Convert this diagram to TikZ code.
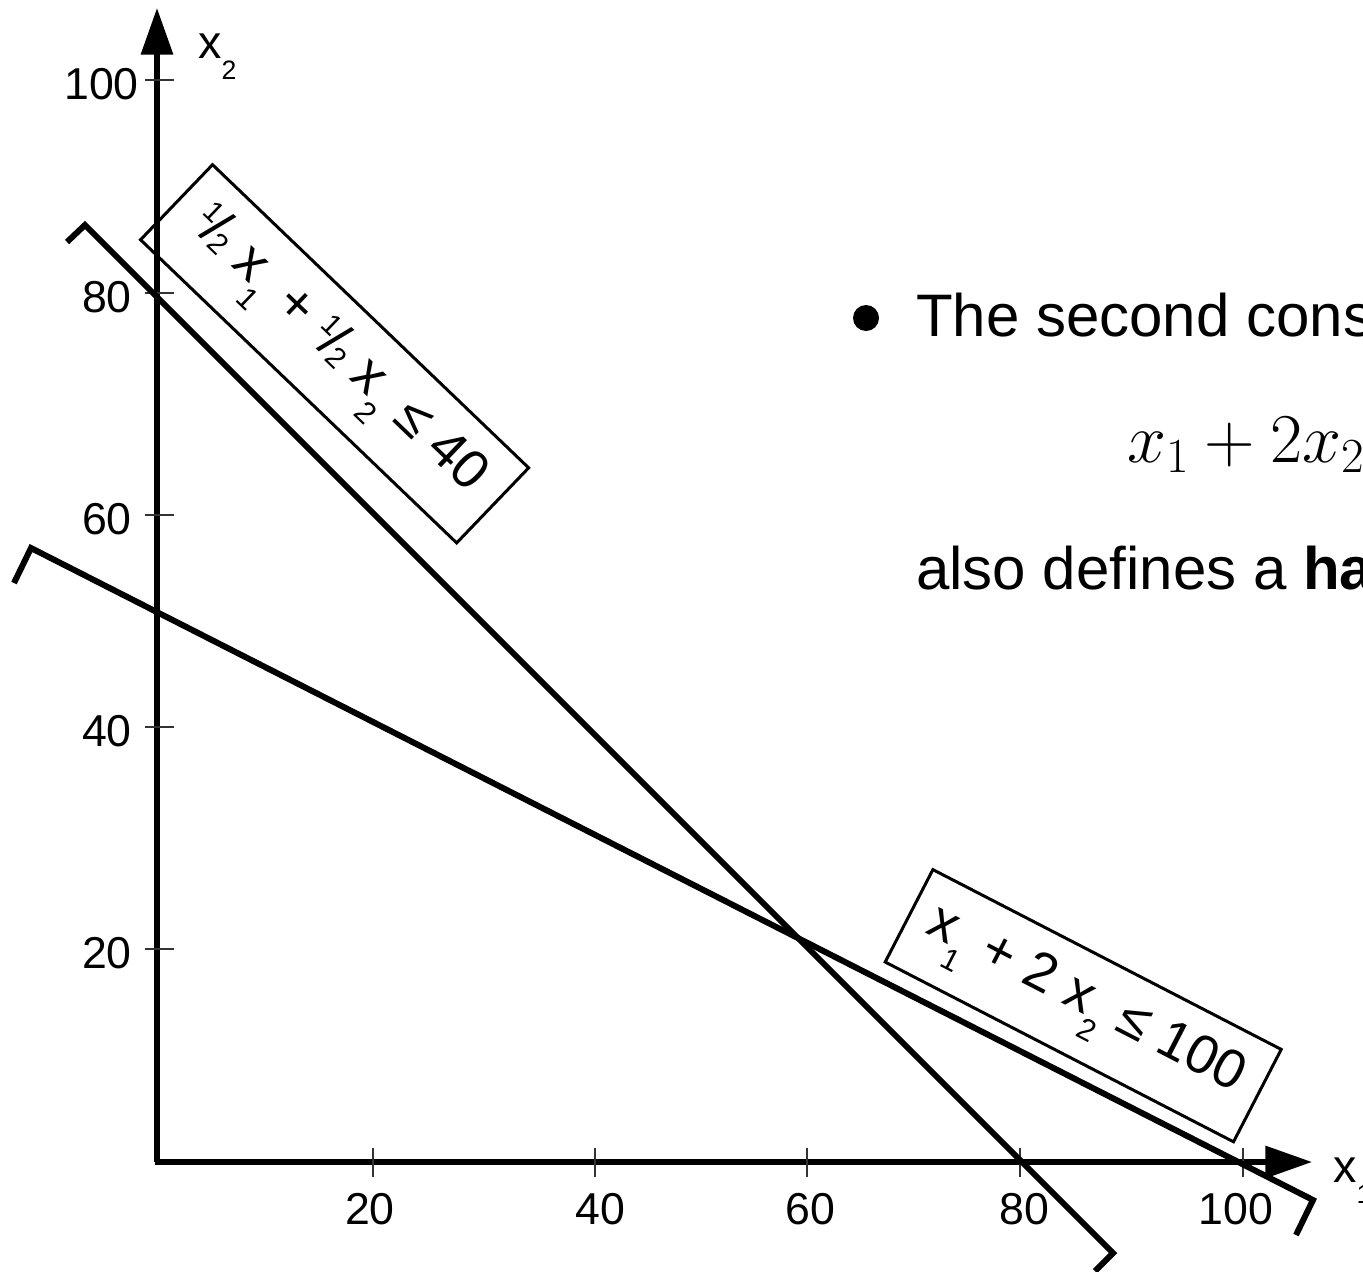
\RequirePackage{fix-cm}
\documentclass[tikz,border=0pt]{standalone}
\usepackage{fontspec}
\setmainfont{Liberation Sans}
\usetikzlibrary{arrows.meta}
\newcommand{\fsz}[1]{\fontsize{#1}{#1}\selectfont}
\newcommand{\lsub}[1]{\raisebox{-15.75pt}{\fsz{20}#1}}
\newcommand{\bsub}[1]{\raisebox{-17pt}{\fsz{23}#1}}
\newcommand{\half}{\raisebox{13.5pt}{\fsz{22}1}\kern-2.8pt/\kern-1.8pt\raisebox{-2pt}{\fsz{22}2}}
\tikzset{
  axisline/.style={line width=4pt, -{Triangle[length=35pt,width=23.5pt]}},
  tickline/.style={line width=1.3pt, black!80},
  cline/.style={line width=4.5pt, miter limit=20},
  cbox/.style={draw, line width=2.25pt, inner sep=0pt, minimum height=78pt, font=\fsz{41}},
  ticklab/.style={inner sep=0pt, font=\fsz{33.5}},
  bodytext/.style={inner sep=0pt, anchor=base west, font=\fsz{45}}
}
\begin{document}
\begin{tikzpicture}[x=0.75pt,y=-0.75pt]
\useasboundingbox (0,0) rectangle (1363,1271);
\clip (0,0) rectangle (1363,1271);
% axes
\coordinate (O) at (157,1162);
\coordinate (ytip) at (157,8);
\coordinate (xtip) at (1312,1162);
\coordinate (Ox) at (155,1162);
\draw[axisline] (O) -- (ytip);
\draw[axisline] (Ox) -- (xtip);
% y ticks
\foreach \yy/\lab/\ly/\lx in {80/100/84/139, 293/80/297/132, 515/60/519/132, 727/40/731/132, 949/20/953/132}{
  \draw[tickline] (145,\yy) -- (174,\yy);
  \node[ticklab, anchor=east] (yl\lab) at (\lx,\ly) {\lab};
}
% x ticks
\foreach \xx/\lab/\lx in {373/20/370, 595/40/600, 807/60/810, 1020/80/1024, 1243/100/1236}{
  \draw[tickline] (\xx,1148) -- (\xx,1177);
  \node[ticklab] (xl\lab) at (\lx,1209) {\lab};
}
% axis labels
\node[inner sep=0pt, anchor=base west] (xlab2) at (198,58) {\fsz{35}x\lsub{2}};
\node[inner sep=0pt, anchor=base west] (xlab1) at (1333,1182) {\fsz{35}x\lsub{1}};
% constraint lines with hooks
\coordinate (a1) at (67,242);
\coordinate (a2) at (85,225);
\coordinate (a3) at (1113,1253);
\coordinate (a4) at (1095,1271);
\draw[cline] (a1) -- (a2) -- (a3) -- (a4);
\coordinate (b1) at (14,583);
\coordinate (b2) at (31,548);
\coordinate (b3) at (1313,1200);
\coordinate (b4) at (1296,1235);
\draw[cline] (b1) -- (b2) -- (b3) -- (b4);
% labels in boxes
\node[cbox, rotate=-43.8, minimum width=328.5pt] (box1) at (334.6,353.8)
  {\half{} x\bsub{1} + \half{} x\bsub{2} ≤ 40};
\node[cbox, rotate=-27.3, minimum width=294pt] (box2) at (1083.2,1005.7)
  {x\bsub{1} + 2 x\bsub{2} ≤ 100};
% text
\node[circle, fill, inner sep=0pt, minimum size=19.5pt] (bul) at (866,318) {};
\node[bodytext] (t1) at (916,336) {The second cons};
\node[inner sep=0pt, anchor=base west] (t2) at (1127,462) {\fsz{52.5}$x_1+2x_2$};
\node[bodytext] (t3) at (916,589) {also defines a \textbf{ha}};
\end{tikzpicture}
\end{document}
